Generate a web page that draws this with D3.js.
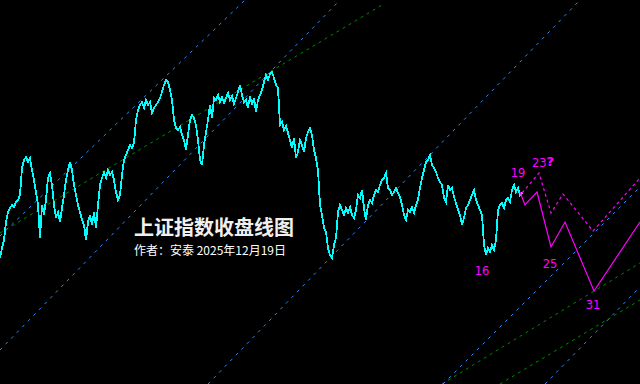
<!DOCTYPE html>
<html>
<head>
<meta charset="utf-8">
<script src="https://cdn.jsdelivr.net/npm/d3@7"></script>
<style>
  html, body { margin: 0; padding: 0; background: #000; overflow: hidden; }
</style>
</head>
<body>
<script>
// closing values, one per bar (bar index 0..261)
const closes = [
  2710, 2760, 2800, 2890, 2940, 2960, 2975, 2965, 2990, 3000, 3025, 3160, 3200, 3215, 3190, 3210,
  3150, 3100, 3040, 2975, 2810, 2975, 2925, 3000, 3110, 3135, 3075, 2975, 2910, 2940, 2890, 2960,
  3025, 3100, 3150, 3190, 3150, 3075, 3025, 2975, 2940, 2900, 2875, 2800, 2890, 2925, 2875, 2940,
  2860, 2975, 3075, 3110, 3140, 3110, 3150, 3125, 3140, 3100, 3040, 3000, 3025, 3125, 3200, 3225,
  3250, 3275, 3260, 3285, 3400, 3450, 3475, 3490, 3460, 3500, 3475, 3490, 3435, 3460, 3475, 3490,
  3510, 3540, 3575, 3600, 3590, 3550, 3500, 3400, 3360, 3350, 3365, 3325, 3300, 3250, 3325, 3400,
  3425, 3410, 3375, 3300, 3200, 3175, 3275, 3340, 3400, 3475, 3410, 3510, 3500, 3525, 3490, 3515,
  3485, 3510, 3535, 3500, 3520, 3480, 3510, 3540, 3575, 3525, 3490, 3500, 3460, 3520, 3475, 3510,
  3440, 3500, 3525, 3550, 3590, 3625, 3600, 3630, 3640, 3610, 3575, 3560, 3375, 3390, 3350, 3370,
  3335, 3300, 3260, 3310, 3210, 3240, 3300, 3275, 3240, 3310, 3340, 3360, 3325, 3250, 3210, 3150,
  2975, 2925, 2860, 2840, 2760, 2725, 2710, 2775, 2810, 2940, 2975, 2950, 2925, 2960, 2935, 2965,
  2925, 2910, 2950, 3025, 3010, 3050, 2960, 2900, 2975, 3000, 2985, 3025, 3050, 3040, 3075, 3100,
  3110, 3135, 3060, 3050, 3025, 3040, 3060, 3035, 3015, 2975, 2925, 2900, 2950, 2940, 2965, 2935,
  2975, 3000, 3060, 3110, 3150, 3190, 3200, 3225, 3175, 3160, 3140, 3110, 3090, 3075, 3010, 2990,
  3075, 3050, 3060, 3015, 2985, 2950, 2925, 2875, 2910, 2960, 2975, 3000, 3025, 3050, 3000, 2975,
  2950, 2925, 2775, 2725, 2760, 2740, 2775, 2750, 2800, 2950, 2975, 2985, 2960, 3000, 3010, 2990,
  3050, 3075, 3040, 3060, 3025, 3035
];

// projected paths [bar, value]
const projSolid = [[260, 3040], [262.5, 2975], [268.5, 3040], [275.5, 2765], [282.5, 2890], [297, 2545], [320, 2890]];
const projDashed = [[261, 3035], [269.5, 3135], [275.5, 2935], [281.5, 3030], [296.5, 2845], [320, 3110]];

// wave labels [text, bar, value]
const waveLabels = [
  ["16", 241, 2645],
  ["19", 259, 3135],
  ["23", 271.5, 3185],
  ["25", 275, 2680],
  ["31", 296.5, 2475]
];

// channel lines [[bar, value], [bar, value]]
const blueLines = [
  [[0, 2820], [122.5, 4000]],
  [[0, 2250], [170, 4000]],
  [[104, 2080], [290, 4000]],
  [[221.5, 2080], [320, 3065]],
  [[272.5, 2080], [320, 2565]]
];
const greenLines = [
  [[0, 2835], [191, 3975]],
  [[221, 2080], [320, 2685]],
  [[250, 2080], [320, 2500]]
];

const titleText = "上证指数收盘线图";
const subText = "作者：安泰 2025年12月19日";

const width = 640, height = 384;

const svg = d3.select("body").append("svg")
  .attr("width", width)
  .attr("height", height)
  .style("display", "block");

svg.append("rect").attr("width", width).attr("height", height).attr("fill", "#000");

const x = d3.scaleLinear().domain([0, 320]).range([0, width]);
const y = d3.scaleLinear().domain([2080, 4000]).range([height, 0]);

const line = d3.line().x(d => x(d[0])).y(d => y(d[1]));

// channel lines
svg.append("g").selectAll("path")
  .data(greenLines)
  .join("path")
  .attr("d", line)
  .attr("fill", "none")
  .attr("stroke", "#008800")
  .attr("stroke-width", 1)
  .attr("stroke-dasharray", "3,4");

svg.append("g").selectAll("path")
  .data(blueLines)
  .join("path")
  .attr("d", line)
  .attr("fill", "none")
  .attr("stroke", "#2a8cff")
  .attr("stroke-width", 1)
  .attr("stroke-dasharray", "3,5");

// close line
svg.append("path")
  .datum(closes.map((v, i) => [i, v]))
  .attr("d", line)
  .attr("fill", "none")
  .attr("stroke", "#00ffff")
  .attr("stroke-width", 1.8)
  .attr("shape-rendering", "crispEdges");

// projections
svg.append("path")
  .datum(projDashed)
  .attr("d", line)
  .attr("fill", "none")
  .attr("stroke", "#ff00ff")
  .attr("stroke-width", 1.2)
  .attr("stroke-dasharray", "3,3");

svg.append("path")
  .datum(projSolid)
  .attr("d", line)
  .attr("fill", "none")
  .attr("stroke", "#ff00ff")
  .attr("stroke-width", 1.2);

const labels = svg.append("g").selectAll("text")
  .data(waveLabels)
  .join("text")
  .attr("x", d => x(d[1]))
  .attr("y", d => y(d[2]))
  .attr("text-anchor", "middle")
  .attr("dominant-baseline", "middle")
  .attr("fill", "#ff00ff")
  .style("font-family", "'DejaVu Sans', sans-serif")
  .style("font-size", "11.5px")
  .text(d => d[0]);

// question mark after "23"
labels.filter(d => d[0] === "23")
  .append("tspan")
  .style("font-weight", "bold")
  .style("font-size", "13px")
  .attr("dy", -1)
  .text("?");

// title
svg.append("text")
  .attr("x", 134)
  .attr("y", 235)
  .attr("fill", "#f0f0f0")
  .style("font-family", "'Noto Sans CJK SC', sans-serif")
  .style("font-size", "20px")
  .style("font-weight", "bold")
  .text(titleText);

svg.append("text")
  .attr("x", 134)
  .attr("y", 255)
  .attr("fill", "#ffffff")
  .style("font-family", "'Noto Sans CJK SC', sans-serif")
  .style("font-size", "12px")
  .text(subText);
</script>
</body>
</html>
